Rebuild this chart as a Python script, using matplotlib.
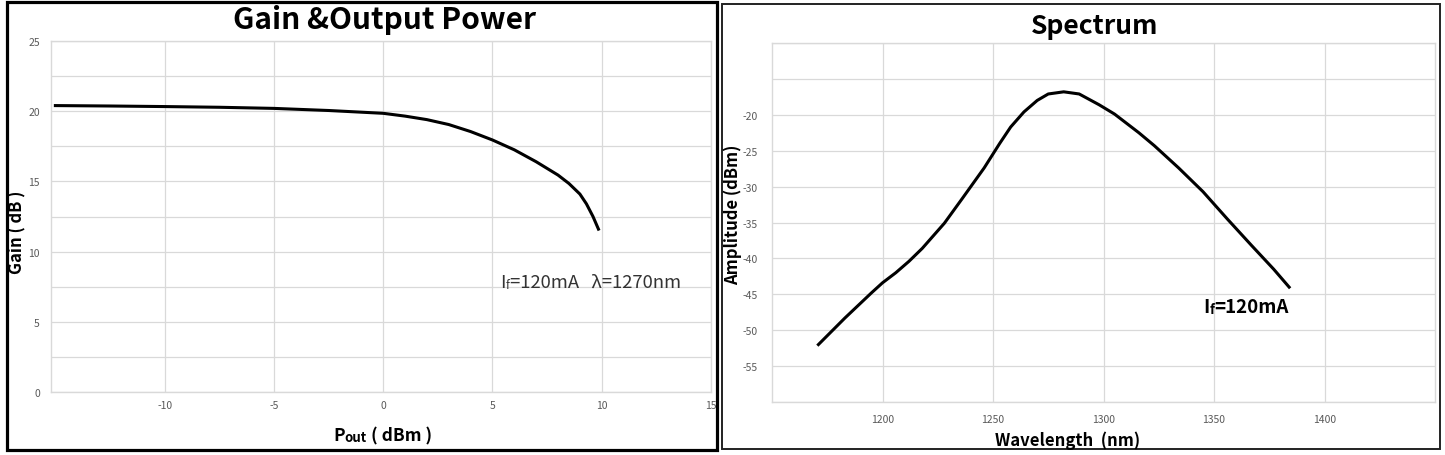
import numpy as np
import matplotlib
matplotlib.use("Agg")
import matplotlib.pyplot as plt
from matplotlib.patches import Rectangle

plt.rcParams['font.family'] = ['Noto Sans CJK KR', 'DejaVu Sans']
plt.rcParams['axes.unicode_minus'] = False

# Gain vs output power (If=120mA, 1270nm)
pout = [-15, -12.5, -10, -7.5, -5, -2.5, 0, 1, 2, 3, 4, 5, 6, 7, 8, 8.5, 9, 9.3, 9.6, 9.85]
gain = [20.4, 20.37, 20.33, 20.28, 20.2, 20.05, 19.85, 19.65, 19.4, 19.05, 18.55, 17.95,
        17.25, 16.4, 15.45, 14.85, 14.1, 13.4, 12.5, 11.6]

# ASE spectrum
wl = [1171, 1183, 1195, 1200, 1206, 1212, 1218, 1228, 1236, 1246, 1253, 1258, 1264, 1270,
      1275, 1282, 1289, 1298, 1305, 1316, 1323, 1334, 1345, 1356, 1367, 1377, 1384]
amp = [-52, -48.3, -44.8, -43.4, -42.0, -40.4, -38.6, -35.1, -31.7, -27.4, -24.0, -21.7,
       -19.6, -18.0, -17.1, -16.8, -17.1, -18.6, -19.9, -22.5, -24.3, -27.4, -30.7, -34.5,
       -38.2, -41.5, -44.0]

W, H = 1445, 456
fig = plt.figure(figsize=(W / 100, H / 100), dpi=100)

def px(x0, y0, x1, y1):
    # pixel box -> figure fraction [left, bottom, width, height]
    return [x0 / W, 1 - y1 / H, (x1 - x0) / W, (y1 - y0) / H]

grid_c = '#d9d9d9'
tick_c = '#595959'

def style(ax):
    for s in ax.spines.values():
        s.set_color(grid_c)
        s.set_linewidth(1)
    ax.tick_params(length=0, labelsize=7.5, labelcolor=tick_c)
    ax.grid(True, which='both', color=grid_c, linewidth=0.9)
    ax.set_axisbelow(True)

# left panel
ax1 = fig.add_axes(px(51, 42, 711, 393))
ax1.plot(pout, gain, color='black', lw=2.2)
ax1.set_xlim(-15.2, 15)
ax1.set_ylim(0, 25)
ax1.set_xticks([-10, -5, 0, 5, 10, 15])
ax1.set_yticks([0, 5, 10, 15, 20, 25])
ax1.set_yticks(np.arange(2.5, 25, 5), minor=True)
style(ax1)
ax1.tick_params(axis='x', pad=6)
ax1.tick_params(axis='y', pad=8)
ax1.tick_params(which='minor', length=0)

fig.text(385 / W, 1 - 20 / H, "Gain &Output Power", ha='center', va='center',
         fontsize=21.5, fontweight='bold')
fig.text(17 / W, 1 - 232 / H, "Gain ( dB )", rotation=90, ha='center', va='center',
         fontsize=12, fontweight='bold')
t = fig.text(333 / W, 1 - 441 / H, "P", ha='left', va='baseline', fontsize=12.5, fontweight='bold')
t = ax1.annotate("out", xy=(1, 0), xycoords=t, ha='left', va='bottom', fontsize=9.5,
                 fontweight='bold', annotation_clip=False)
ax1.annotate(" ( dBm )", xy=(1, 0), xycoords=t, ha='left', va='bottom', fontsize=12.5,
             fontweight='bold', annotation_clip=False)

t = ax1.text(5.37, 7.5, "I", ha='left', va='baseline', fontsize=13.3, color='#333333')
t = ax1.annotate("f", xy=(1, 0), xycoords=t, ha='left', va='bottom', fontsize=8.5, color='#333333')
ax1.annotate("=120mA   λ=1270nm", xy=(1, 0), xycoords=t, ha='left', va='bottom',
             fontsize=13.3, color='#333333')

# right panel
ax2 = fig.add_axes(px(772, 44, 1435, 403))
ax2.plot(wl, amp, color='black', lw=2.2)
ax2.set_xlim(1150, 1450)
ax2.set_ylim(-60, -10)
ax2.set_xticks([1200, 1250, 1300, 1350, 1400])
ax2.set_yticks(np.arange(-55, -15, 5))
ax2.set_yticks([-60, -15, -10], minor=True)
style(ax2)
ax2.tick_params(axis='x', pad=9)
ax2.tick_params(axis='y', pad=10)
ax2.tick_params(which='minor', length=0)

fig.text(1095 / W, 1 - 27 / H, "Spectrum", ha='center', va='center',
         fontsize=19, fontweight='bold')
fig.text(733 / W, 1 - 215 / H, "Amplitude (dBm)", rotation=90, ha='center', va='center',
         fontsize=12, fontweight='bold')
fig.text(1068 / W, 1 - 446 / H, "Wavelength  (nm)", ha='center', va='baseline',
         fontsize=12, fontweight='bold')

t = ax2.text(1345, -47.4, "I", ha='left', va='baseline', fontsize=13.5, fontweight='bold')
t = ax2.annotate("f", xy=(1, 0), xycoords=t, ha='left', va='bottom', fontsize=9.5, fontweight='bold')
ax2.annotate("=120mA", xy=(1, 0), xycoords=t, ha='left', va='bottom', fontsize=13.5,
             fontweight='bold')

# panel frames
fig.patches.append(Rectangle((7 / W, 1 - 451 / H), 710 / W, 448 / H, transform=fig.transFigure,
                             fill=False, edgecolor='black', lw=2.3))
fig.patches.append(Rectangle((722 / W, 1 - 450 / H), 718 / W, 445 / H, transform=fig.transFigure,
                             fill=False, edgecolor='#222222', lw=1.4))

plt.savefig("out.png", dpi=100)
